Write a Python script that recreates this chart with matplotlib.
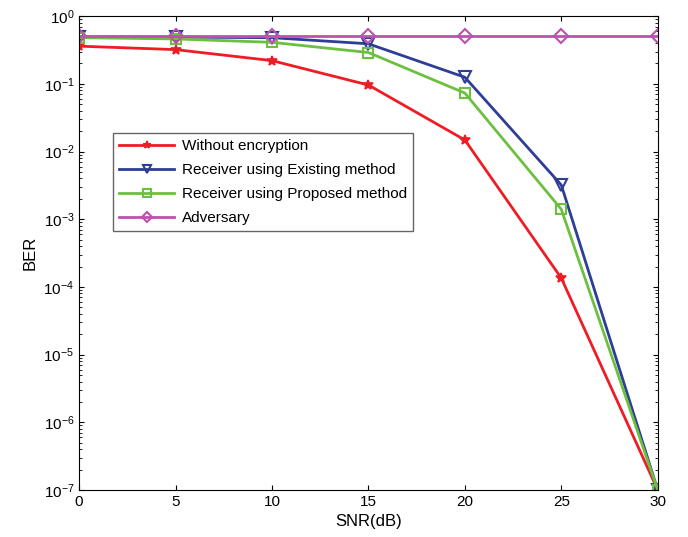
import numpy as np
import matplotlib.pyplot as plt

plt.rcParams['font.family'] = ['Liberation Sans', 'DejaVu Sans']

snr = [0, 5, 10, 15, 20, 25, 30]
ber_plain = [0.36, 0.32, 0.22, 0.096, 0.0148, 1.35e-4, 1e-7]
ber_existing = [0.49, 0.49, 0.48, 0.39, 0.125, 3.2e-3, 1e-7]
ber_proposed = [0.48, 0.46, 0.41, 0.29, 0.073, 1.4e-3, 1e-7]
ber_adversary = [0.5, 0.5, 0.5, 0.5, 0.5, 0.5, 0.5]

fig = plt.figure(figsize=(6.88, 5.37), dpi=100)
ax = fig.add_axes([0.115, 0.0875, 0.841, 0.8825])

ax.semilogy(snr, ber_plain, color='#ee1c25', marker='*', markersize=7, linewidth=2,
            markeredgewidth=1.2, label='Without encryption')
ax.semilogy(snr, ber_existing, color='#2e3d96', marker='v', markersize=8, linewidth=2,
            markerfacecolor='none', markeredgewidth=1.5, label='Receiver using Existing method')
ax.semilogy(snr, ber_proposed, color='#6cc040', marker='s', markersize=6.5, linewidth=2,
            markerfacecolor='none', markeredgewidth=1.5, label='Receiver using Proposed method')
ax.semilogy(snr, ber_adversary, color='#c050b0', marker='D', markersize=7, linewidth=2,
            markerfacecolor='none', markeredgewidth=1.5, label='Adversary')

ax.set_xlim(0, 30)
ax.set_ylim(1e-7, 1)
ax.set_xticks([0, 5, 10, 15, 20, 25, 30])
ax.tick_params(which='both', direction='in', top=True, right=True, labelsize=11)
ax.set_xlabel('SNR(dB)', fontsize=12)
ax.set_ylabel('BER', fontsize=12)

ax.legend(loc='upper left', bbox_to_anchor=(0.059, 0.753), borderaxespad=0, fontsize=11,
          fancybox=False, edgecolor='#666666', framealpha=1, handlelength=3.6,
          labelspacing=0.65, markerscale=0.8, handletextpad=0.5)

fig.savefig('out.png')
